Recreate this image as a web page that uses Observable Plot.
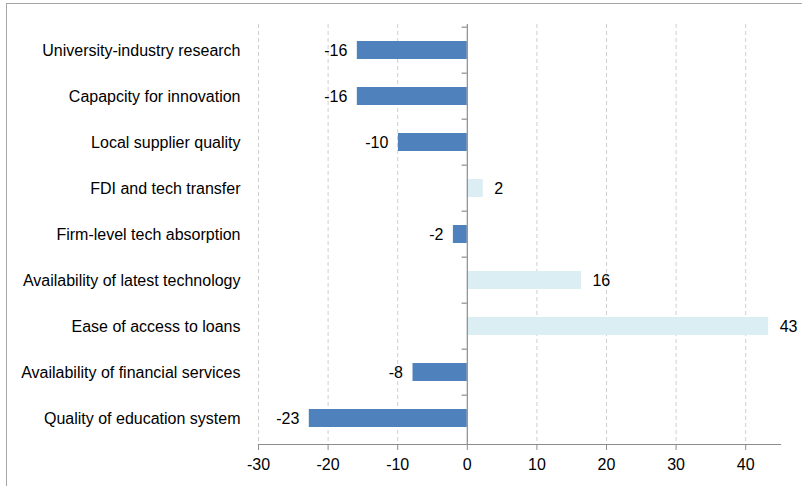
<!DOCTYPE html>
<html><head><meta charset="utf-8">
<script src="https://cdn.jsdelivr.net/npm/d3@7"></script>
<script src="https://cdn.jsdelivr.net/npm/@observablehq/plot@0.6"></script>
<style>
body{margin:0;background:#fff;}
#wrap{position:relative;width:802px;height:486px;overflow:hidden;}
#frame{position:absolute;left:6px;top:3px;width:900px;height:600px;border-left:1.5px solid #a6a6a6;border-top:1.5px solid #a6a6a6;pointer-events:none;}
#wrap svg{position:absolute;left:0;top:0;}
</style></head><body><div id="wrap"><div id="frame"></div></div>
<script>
const categories = [
  "University-industry research",
  "Capapcity for innovation",
  "Local supplier quality",
  "FDI and tech transfer",
  "Firm-level tech absorption",
  "Availability of latest technology",
  "Ease of access to loans",
  "Availability of financial services",
  "Quality of education system"
];
const values = [-15.8, -15.8, -9.9, 2.3, -2.0, 16.4, 43.3, -7.8, -22.7];
const valueLabels = ["-16", "-16", "-10", "2", "-2", "16", "43", "-8", "-23"];
const xTicks = [-30, -20, -10, 0, 10, 20, 30, 40];
const xTickLabels = ["-30", "-20", "-10", "0", "10", "20", "30", "40"];

const data = categories.map((c, i) => ({category: c, value: values[i], label: valueLabels[i]}));
const neg = data.filter(d => d.value < 0);
const pos = data.filter(d => d.value >= 0);
const gridTicks = xTicks.filter(t => t !== 0);

const marginTop = 24, marginBottom = 42, H = 486;
const step = (H - marginTop - marginBottom) / categories.length;

const plot = Plot.plot({
  width: 802, height: H,
  marginLeft: 258, marginRight: 22, marginTop, marginBottom,
  style: {fontFamily: "'Liberation Sans', Arial, sans-serif", fontSize: "16px", color: "#000", background: "transparent"},
  x: {domain: [-30, 45]},
  y: {domain: categories, paddingInner: 0.61, paddingOuter: 0.305},
  marks: [
    Plot.ruleX(gridTicks, {stroke: "#cfcfcf", strokeDasharray: "4,3", strokeWidth: 1}),
    Plot.barX(neg, {x: "value", y: "category", fill: "#4f81bd"}),
    Plot.barX(pos, {x: "value", y: "category", fill: "#dbeef4"}),
    Plot.ruleX([0], {stroke: "#8c8c8c", strokeWidth: 1.2}),
    Plot.ruleY(categories, {y: d => d, x1: 0, x2: -0.75, dy: -step / 2, stroke: "#8c8c8c", strokeWidth: 1.2}),
    Plot.frame({anchor: "bottom", stroke: "#8c8c8c", strokeWidth: 1.2}),
    Plot.axisX({ticks: xTicks, tickFormat: (d, i) => xTickLabels[xTicks.indexOf(d)], tickSize: 6, tickPadding: 8, stroke: "#8c8c8c", fill: "#000", fontSize: 16, label: null}),
    Plot.axisY({tickSize: 0, tickPadding: 18, fill: "#000", fontSize: 16, label: null}),
    Plot.text(neg, {x: "value", y: "category", text: "label", textAnchor: "end", dx: -10, fill: "#000", fontSize: 16}),
    Plot.text(pos, {x: "value", y: "category", text: "label", textAnchor: "start", dx: 11, fill: "#000", fontSize: 16})
  ]
});
document.getElementById("wrap").appendChild(plot);
</script>
</body></html>
